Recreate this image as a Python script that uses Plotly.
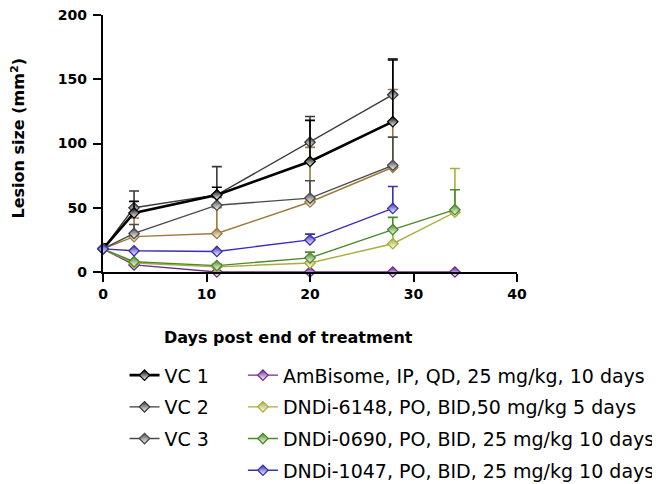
import plotly.graph_objects as go

# ---- data ----
days_vc = [0, 3, 11, 20, 28]
days_drug = [0, 3, 11, 20, 28, 34]
days_1047 = [0, 3, 11, 20, 28]

vc1 = [18, 46, 60, 86, 117]
vc1_err = [4, 9, 6, 32, 48]
vc2 = [18, 50, 60, 101, 138]
vc2_err = [4, 13, 22, 20, 28]
vc3 = [18, 30, 52, 57.5, 83]
vc3_err = [4, 7, 6, 13.5, 22]
vc_extra = [18, 27.5, 30, 54.5, 81.5]
vc_extra_err = [4, 14.5, 20, 42.5, 60.5]

ambisome = [18, 5.5, 0, 0, 0, 0]
ambisome_err = [0, 0.5, 0, 0, 0, 0]
dndi6148 = [18, 7, 4, 7, 22, 46.5]
dndi6148_err = [0, 1, 1, 1, 10.5, 34]
dndi0690 = [18, 8, 5, 11, 33, 48.5]
dndi0690_err = [0, 1, 1, 4.5, 9.5, 15.5]
dndi1047 = [18, 16.5, 16, 25, 49.5]
dndi1047_err = [0, 0, 0, 4.5, 17]

x_ticks = [0, 10, 20, 30, 40]
y_ticks = [0, 50, 100, 150, 200]

series = [
    ("VC 1", days_vc, vc1, vc1_err, "#000000", 2.6, "legend", True),
    ("VC 2", days_vc, vc2, vc2_err, "#3a3a3a", 1.4, "legend", True),
    ("VC 3", days_vc, vc3, vc3_err, "#4a4a4a", 1.4, "legend", True),
    ("VC 3b", days_vc, vc_extra, vc_extra_err, "#9c7a3c", 1.4, "legend", False),
    ("AmBisome, IP, QD, 25 mg/kg, 10 days", days_drug, ambisome, ambisome_err, "#6a2c91", 1.4, "legend2", True),
    ("DNDi-6148, PO, BID,50 mg/kg 5 days", days_drug, dndi6148, dndi6148_err, "#a9ae3a", 1.4, "legend2", True),
    ("DNDi-0690, PO, BID, 25 mg/kg 10 days", days_drug, dndi0690, dndi0690_err, "#4c8a2a", 1.4, "legend2", True),
    ("DNDi-1047, PO, BID, 25 mg/kg 10 days", days_1047, dndi1047, dndi1047_err, "#3a2fb0", 1.4, "legend2", True),
]

fig = go.Figure()
order = [3, 2, 1, 0, 4, 5, 6, 7]
for i in order:
    name, xs, ys, err, col, lw, leg, show = series[i]
    fig.add_trace(go.Scatter(
        x=xs, y=ys, name=name, mode="lines+markers",
        line=dict(color=col, width=lw),
        marker=dict(symbol="diamond", size=8, color=col,
                    gradient=dict(type="vertical", color="white"),
                    line=dict(color=col, width=1.3)),
        error_y=dict(type="data", array=err, arrayminus=[0] * len(err), symmetric=False,
                     color=col, thickness=1.6, width=5),
        cliponaxis=False, legend=leg, showlegend=show, legendgroup=name,
        legendrank=i,
    ))

axis_font = dict(family="DejaVu Sans", size=14, color="black", weight="bold")
legend_font = dict(family="DejaVu Sans", size=19, color="black")
fig.update_layout(
    width=660, height=484,
    margin=dict(l=95, r=151, t=7, b=220, autoexpand=False),
    plot_bgcolor="white", paper_bgcolor="white",
    font=dict(family="DejaVu Sans", color="black"),
    xaxis=dict(range=[0, 40], tickvals=x_ticks, showgrid=False, zeroline=False,
               showline=True, linecolor="black", linewidth=2.2,
               ticks="outside", ticklen=8, tickwidth=2, tickcolor="black",
               tickfont=axis_font, ticklabeloverflow="allow"),
    yaxis=dict(range=[0, 200], tickvals=y_ticks, showgrid=False, zeroline=False,
               showline=True, linecolor="black", linewidth=2.2,
               ticks="outside", ticklen=8, tickwidth=2, tickcolor="black",
               tickfont=axis_font, ticklabeloverflow="allow", ticklabelstandoff=3),
    legend=dict(x=0.052, y=-0.328, xanchor="left", yanchor="top",
                font=legend_font, tracegroupgap=4, bgcolor="rgba(0,0,0,0)"),
    legend2=dict(x=0.338, y=-0.328, xanchor="left", yanchor="top",
                 font=legend_font, tracegroupgap=4, bgcolor="rgba(0,0,0,0)"),
    annotations=[
        dict(text="<b>Days post end of treatment</b>", xref="paper", yref="paper",
             x=0.449, y=-0.253, xanchor="center", yanchor="middle", showarrow=False,
             font=dict(family="DejaVu Sans", size=16, color="black")),
        dict(text="<b>Lesion size (mm<sup>2</sup>)</b>", xref="paper", yref="paper",
             x=-0.205, y=0.52, xanchor="center", yanchor="middle", showarrow=False,
             textangle=-90, font=dict(family="DejaVu Sans", size=16, color="black")),
    ],
)

fig.write_html("out.html")
